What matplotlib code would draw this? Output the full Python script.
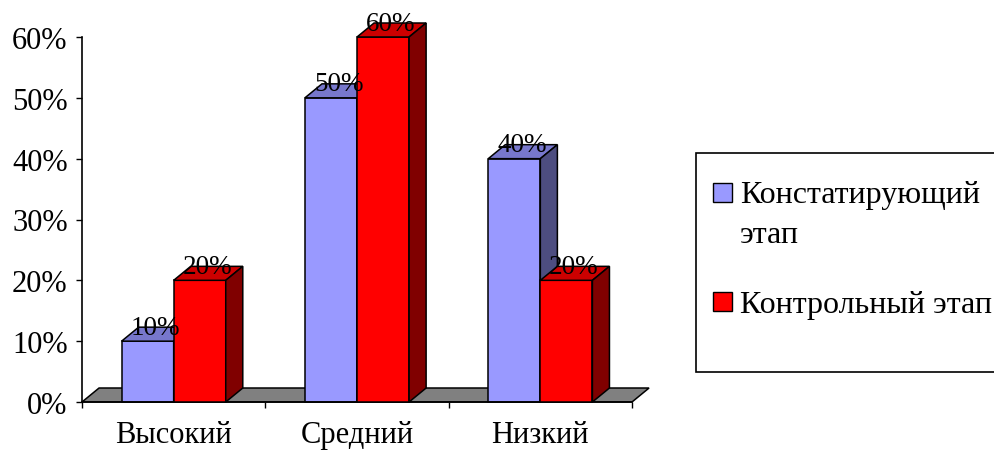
import matplotlib
matplotlib.use("Agg")
import matplotlib.pyplot as plt
from matplotlib.patches import Polygon, Rectangle
from matplotlib.ticker import FixedLocator

plt.rcParams['font.family'] = ['Liberation Serif', 'DejaVu Serif']

categories = ["Высокий", "Средний", "Низкий"]
series_names = ["Констатирующий\nэтап", "Контрольный этап"]
konst = [10, 50, 40]
kontr = [20, 60, 20]
yticks = [0, 10, 20, 30, 40, 50, 60]

front_cols = ["#9999FF", "#FF0000"]
top_cols = ["#7777CC", "#CC0000"]
side_cols = ["#4D4D80", "#800000"]

W, H = 995, 452
fig = plt.figure(figsize=(W / 100, H / 100), dpi=100)
ax = fig.add_axes([82 / W, 49 / H, 550 / W, 365 / H])
ax.set_xlim(0, 3)
ax.set_ylim(0, 60)

bw = 0.284
dx = 0.093
dy = 2.3
FS = 22
FS_LAB = 19.5
FS_LEG = 23
lw = 1.1

# floor
floor = Polygon([(0, 0), (3, 0), (3 + dx, dy), (dx, dy)], closed=True,
                facecolor="#808080", edgecolor="black", linewidth=lw,
                clip_on=False, zorder=1)
ax.add_patch(floor)

for si, vals in enumerate([konst, kontr]):
    z = 2 + si
    for ci, v in enumerate(vals):
        x0 = ci + 0.5 - bw + si * bw
        x1 = x0 + bw
        ax.bar(x0, v, bw, align='edge', color=front_cols[si], edgecolor='black',
               linewidth=lw, zorder=z, clip_on=False)
        top = Polygon([(x0, v), (x1, v), (x1 + dx, v + dy), (x0 + dx, v + dy)],
                      closed=True, facecolor=top_cols[si], edgecolor='black',
                      linewidth=lw, zorder=z, clip_on=False)
        side = Polygon([(x1, 0), (x1 + dx, dy), (x1 + dx, v + dy), (x1, v)],
                       closed=True, facecolor=side_cols[si], edgecolor='black',
                       linewidth=lw, zorder=z, clip_on=False)
        ax.add_patch(top)
        ax.add_patch(side)
        ax.text((x0 + x1) / 2 + dx * 0.45, v + dy, f"{v}%", ha='center', va='center',
                fontsize=FS_LAB, zorder=10, clip_on=False)

for s in ["top", "right"]:
    ax.spines[s].set_visible(False)
ax.spines["left"].set_linewidth(1.2)
ax.spines["bottom"].set_linewidth(1.2)
ax.spines["left"].set_zorder(5)

ax.set_yticks(yticks)
ax.set_yticklabels([f"{t}%" for t in yticks], fontsize=FS)
ax.tick_params(axis='y', direction='out', length=4.3, width=1, pad=6)

ax.set_xticks([0.5, 1.5, 2.5])
ax.set_xticklabels(categories, fontsize=FS)
ax.xaxis.set_minor_locator(FixedLocator([0, 1, 2, 3]))
ax.tick_params(axis='x', which='major', length=0, pad=13)
ax.tick_params(axis='x', which='minor', direction='out', length=4, width=1)

# legend (drawn in figure pixel coordinates)
def fx(px):
    return px / W

def fy(py):
    return 1 - py / H

fig.patches.append(Rectangle((fx(696), fy(373)), (1010 - 696) / W, (373 - 154) / H,
                             transform=fig.transFigure, facecolor='white',
                             edgecolor='black', linewidth=1.2, zorder=0))
leg_rows = [(193, [192, 232]), (302, [302])]
for si, (sq_y, line_ys) in enumerate(leg_rows):
    fig.patches.append(Rectangle((fx(713), fy(sq_y + 9.5)), 19 / W, 19 / H,
                                 transform=fig.transFigure, facecolor=front_cols[si],
                                 edgecolor='black', linewidth=1.0, zorder=1))
    for line, ly in zip(series_names[si].split("\n"), line_ys):
        fig.text(fx(740), fy(ly), line, ha='left', va='center_baseline',
                 fontsize=FS_LEG)

fig.savefig("out.png", dpi=100)
